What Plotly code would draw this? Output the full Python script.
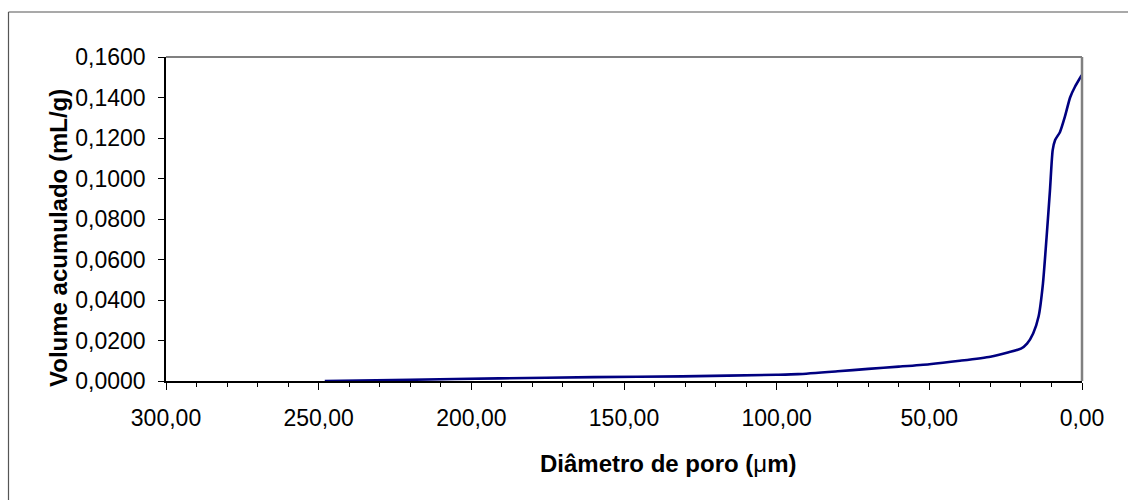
import plotly.graph_objects as go

# Cumulative intruded volume vs. pore diameter
diametro_um = [248, 220, 191, 160, 131, 100, 93, 80, 70, 60, 50, 40, 30, 24, 20,
               18, 16, 14.2, 12.8, 11.6, 10.5, 9.6, 8.8, 7.2, 5.6, 3.9, 2.3, 0.1]
volume_ml_g = [0.0000, 0.0006, 0.0013, 0.0019, 0.0023, 0.0031, 0.0034, 0.0048,
               0.0060, 0.0071, 0.0083, 0.0100, 0.0120, 0.0142, 0.0160, 0.0185,
               0.0235, 0.0320, 0.0480, 0.0710, 0.0940, 0.1140, 0.1190, 0.1230,
               0.1305, 0.1400, 0.1453, 0.1510]

x_ticks = [300, 250, 200, 150, 100, 50, 0]
y_ticks = [0.0, 0.02, 0.04, 0.06, 0.08, 0.10, 0.12, 0.14, 0.16]

W, H = 1128, 500
L, R, T, B = 166, 46, 57, 119
pw, ph = W - L - R, H - T - B


def px(xp):
    return (xp - L) / pw


def py(yp):
    return (H - B - yp) / ph


font_family = "Liberation Sans, Arial, sans-serif"

fig = go.Figure()
fig.add_trace(go.Scatter(
    x=diametro_um, y=volume_ml_g, mode="lines",
    line=dict(color="#000080", width=2.6, shape="spline", smoothing=0.6),
    showlegend=False, hoverinfo="skip",
))

fig.update_layout(
    width=W, height=H,
    margin=dict(l=L, r=R, t=T, b=B),
    paper_bgcolor="white", plot_bgcolor="white",
    separators=",.",
    font=dict(family=font_family, size=23, color="black"),
    xaxis=dict(
        range=[300, 0], tickvals=x_ticks, tickformat=".2f",
        showgrid=False, zeroline=False,
        showline=True, linecolor="black", linewidth=1.5,
        ticks="outside", ticklen=7, tickcolor="black", tickwidth=1,
        minor=dict(dtick=10, ticks="outside", ticklen=4, tickcolor="black", tickwidth=1),
        ticklabelstandoff=9,
        tickfont=dict(size=23),
    ),
    yaxis=dict(
        range=[0, 0.16], tickvals=y_ticks, tickformat=".4f",
        showgrid=False, zeroline=False,
        showline=True, linecolor="black", linewidth=1.5,
        ticks="outside", ticklen=6, tickcolor="black", tickwidth=1,
        ticklabelstandoff=8,
        tickfont=dict(size=23),
    ),
    shapes=[
        # plot-area border (top and right)
        dict(type="line", xref="paper", yref="paper", x0=0, x1=1, y0=1, y1=1,
             line=dict(color="#808080", width=2)),
        dict(type="line", xref="paper", yref="paper", x0=1, x1=1, y0=0, y1=1,
             line=dict(color="#808080", width=2.5)),
        # outer chart frame
        dict(type="line", xref="paper", yref="paper", x0=px(8.5), x1=px(8.5),
             y0=py(12), y1=py(510), line=dict(color="#555555", width=1.2)),
        dict(type="line", xref="paper", yref="paper", x0=px(8.5), x1=px(1140),
             y0=py(12), y1=py(12), line=dict(color="#555555", width=1.2)),
    ],
    annotations=[
        dict(text="<b>Volume acumulado (mL/g)</b>", textangle=-90,
             xref="paper", yref="paper", x=px(58), y=py(238),
             xanchor="center", yanchor="middle", showarrow=False,
             font=dict(size=24, family=font_family)),
        dict(text="<b>Diâmetro de poro (</b>μ<b>m)</b>",
             xref="paper", yref="paper", x=px(668), y=py(463),
             xanchor="center", yanchor="middle", showarrow=False,
             font=dict(size=24, family=font_family)),
    ],
)

fig.write_html("out.html")
